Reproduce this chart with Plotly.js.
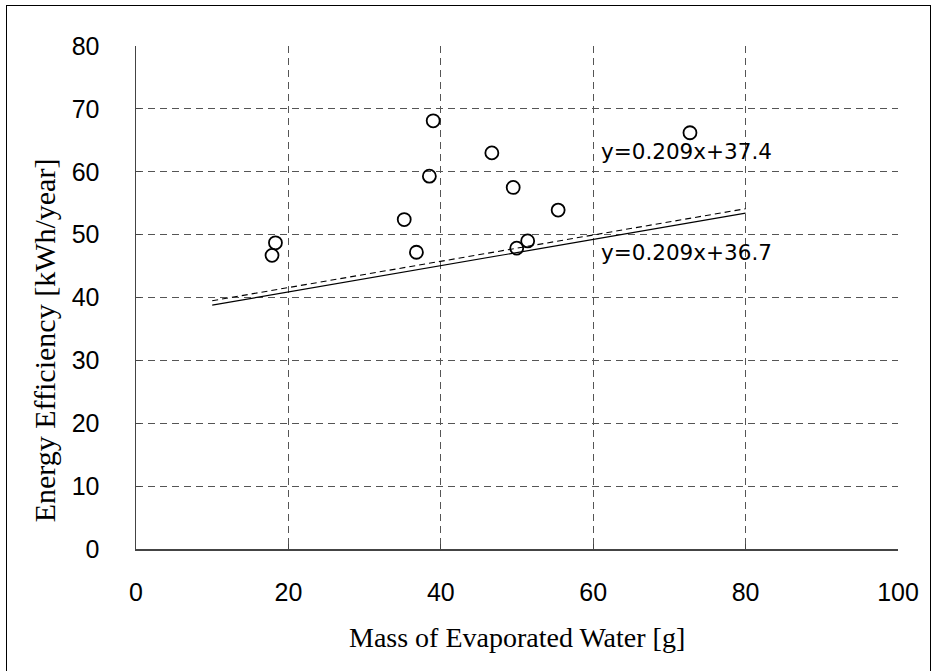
<!DOCTYPE html>
<html>
<head>
<meta charset="utf-8">
<script src="https://cdn.plot.ly/plotly-3.0.1.min.js"></script>
<style>
html,body{margin:0;padding:0;background:#fff;}
#wrap{position:relative;width:937px;height:671px;overflow:hidden;}
#frame{position:absolute;left:6px;top:5px;width:925px;height:700px;border:1.5px solid #000;box-sizing:border-box;pointer-events:none;z-index:5;}
#chart{position:absolute;left:0;top:0;width:937px;height:671px;}
</style>
</head>
<body>
<div id="wrap"><div id="chart"></div><div id="frame"></div></div>
<script>
// Data
const massWater = [17.85, 18.3, 35.2, 36.8, 38.5, 39.0, 46.7, 49.5, 49.96, 51.4, 55.4, 72.7];
const energyEff = [46.7, 48.7, 52.4, 47.2, 59.3, 68.1, 63.0, 57.5, 47.85, 49.0, 53.9, 66.2];

const trendRange = [10, 80];
const solidSlope = 0.209, solidIntercept = 36.7;
const dashSlope = 0.209, dashIntercept = 37.4;
const solidLabel = "y=0.209x+36.7";
const dashLabel = "y=0.209x+37.4";

const xTitle = "Mass of Evaporated Water [g]";
const yTitle = "Energy Efficiency [kWh/year]";
const xTicks = [0, 20, 40, 60, 80, 100];
const yTicks = [0, 10, 20, 30, 40, 50, 60, 70, 80];

const traces = [
  {
    x: trendRange, y: trendRange.map(v => solidSlope * v + solidIntercept),
    mode: 'lines', line: {color: '#000', width: 1.2}, hoverinfo: 'skip', showlegend: false
  },
  {
    x: trendRange, y: trendRange.map(v => dashSlope * v + dashIntercept),
    mode: 'lines', line: {color: '#000', width: 1.1, dash: '6px,4px'}, hoverinfo: 'skip', showlegend: false
  },
  {
    x: massWater, y: energyEff, mode: 'markers', showlegend: false,
    marker: {symbol: 'circle-open', size: 13, color: '#000', line: {width: 1.8, color: '#000'}}
  }
];

const tickFont = {family: 'Liberation Sans, Arial, sans-serif', size: 25, color: '#000'};
const xTitleFont = {family: 'Liberation Serif, Times New Roman, serif', size: 28, color: '#000'};
const yTitleFont = {family: 'Liberation Serif, Times New Roman, serif', size: 30, color: '#000'};
const eqFont = {family: 'DejaVu Sans, sans-serif', size: 21.5, color: '#000'};

const axisCommon = {
  showgrid: true, gridcolor: '#555', gridwidth: 1, griddash: '7px,5px',
  zeroline: false, showline: true, linecolor: '#444', linewidth: 1.5,
  ticks: 'inside', ticklen: 5, tickcolor: '#444', tickwidth: 1,
  tickfont: tickFont
};

const layout = {
  width: 937, height: 671,
  margin: {l: 135.5, r: 38.5, t: 46, b: 121.7},
  paper_bgcolor: '#fff', plot_bgcolor: '#fff',
  xaxis: Object.assign({}, axisCommon, {
    range: [0, 100], tickvals: xTicks, ticklabelstandoff: 20
  }),
  yaxis: Object.assign({}, axisCommon, {
    range: [0, 80], tickvals: yTicks, ticklabelstandoff: 30
  }),
  annotations: [
    {x: 60.7, y: 63.2, xref: 'x', yref: 'y', text: dashLabel, showarrow: false, xanchor: 'left', yanchor: 'middle', font: eqFont},
    {x: 60.7, y: 47.1, xref: 'x', yref: 'y', text: solidLabel, showarrow: false, xanchor: 'left', yanchor: 'middle', font: eqFont},
    {x: 0.5, y: -0.176, xref: 'paper', yref: 'paper', text: xTitle, showarrow: false, xanchor: 'center', yanchor: 'middle', font: xTitleFont},
    {x: -0.12, y: 0.414, xref: 'paper', yref: 'paper', text: yTitle, showarrow: false, xanchor: 'center', yanchor: 'middle', textangle: -90, font: yTitleFont}
  ]
};

Plotly.newPlot('chart', traces, layout, {displayModeBar: false, staticPlot: true});
</script>
</body>
</html>
